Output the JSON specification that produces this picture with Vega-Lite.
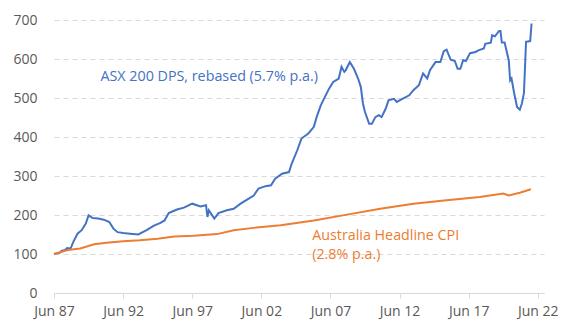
{
  "$schema": "https://vega.github.io/schema/vega-lite/v6.json",
  "width": 490,
  "height": 273,
  "autosize": "none",
  "padding": {"left": 54, "top": 20, "right": 17, "bottom": 27},
  "background": "white",
  "config": {"view": {"stroke": null}, "font": "Open Sans"},
  "datasets": {
    "series": [
      {"year": 1987.5, "value": 100, "series": "ASX"},
      {"year": 1987.9, "value": 103, "series": "ASX"},
      {"year": 1988.04, "value": 108, "series": "ASX"},
      {"year": 1988.3, "value": 110, "series": "ASX"},
      {"year": 1988.45, "value": 115, "series": "ASX"},
      {"year": 1988.7, "value": 114, "series": "ASX"},
      {"year": 1988.9, "value": 131, "series": "ASX"},
      {"year": 1989.2, "value": 152, "series": "ASX"},
      {"year": 1989.5, "value": 161, "series": "ASX"},
      {"year": 1989.8, "value": 178, "series": "ASX"},
      {"year": 1990.0, "value": 199, "series": "ASX"},
      {"year": 1990.3, "value": 192, "series": "ASX"},
      {"year": 1990.7, "value": 191, "series": "ASX"},
      {"year": 1991.1, "value": 188, "series": "ASX"},
      {"year": 1991.5, "value": 182, "series": "ASX"},
      {"year": 1991.8, "value": 165, "series": "ASX"},
      {"year": 1992.1, "value": 156, "series": "ASX"},
      {"year": 1992.5, "value": 154, "series": "ASX"},
      {"year": 1993.0, "value": 152, "series": "ASX"},
      {"year": 1993.6, "value": 150, "series": "ASX"},
      {"year": 1994.2, "value": 161, "series": "ASX"},
      {"year": 1994.7, "value": 172, "series": "ASX"},
      {"year": 1995.2, "value": 180, "series": "ASX"},
      {"year": 1995.5, "value": 186, "series": "ASX"},
      {"year": 1995.8, "value": 205, "series": "ASX"},
      {"year": 1996.4, "value": 214, "series": "ASX"},
      {"year": 1996.9, "value": 219, "series": "ASX"},
      {"year": 1997.5, "value": 229, "series": "ASX"},
      {"year": 1998.1, "value": 222, "series": "ASX"},
      {"year": 1998.5, "value": 225, "series": "ASX"},
      {"year": 1998.6, "value": 195, "series": "ASX"},
      {"year": 1998.7, "value": 212, "series": "ASX"},
      {"year": 1999.1, "value": 191, "series": "ASX"},
      {"year": 1999.4, "value": 205, "series": "ASX"},
      {"year": 2000.0, "value": 212, "series": "ASX"},
      {"year": 2000.5, "value": 216, "series": "ASX"},
      {"year": 2001.0, "value": 229, "series": "ASX"},
      {"year": 2001.5, "value": 240, "series": "ASX"},
      {"year": 2001.95, "value": 250, "series": "ASX"},
      {"year": 2002.3, "value": 268, "series": "ASX"},
      {"year": 2002.8, "value": 274, "series": "ASX"},
      {"year": 2003.2, "value": 276, "series": "ASX"},
      {"year": 2003.5, "value": 293, "series": "ASX"},
      {"year": 2004.0, "value": 306, "series": "ASX"},
      {"year": 2004.5, "value": 310, "series": "ASX"},
      {"year": 2004.7, "value": 332, "series": "ASX"},
      {"year": 2005.1, "value": 366, "series": "ASX"},
      {"year": 2005.4, "value": 396, "series": "ASX"},
      {"year": 2005.9, "value": 409, "series": "ASX"},
      {"year": 2006.3, "value": 426, "series": "ASX"},
      {"year": 2006.5, "value": 451, "series": "ASX"},
      {"year": 2006.8, "value": 481, "series": "ASX"},
      {"year": 2007.1, "value": 503, "series": "ASX"},
      {"year": 2007.4, "value": 524, "series": "ASX"},
      {"year": 2007.7, "value": 541, "series": "ASX"},
      {"year": 2008.1, "value": 550, "series": "ASX"},
      {"year": 2008.3, "value": 580, "series": "ASX"},
      {"year": 2008.5, "value": 567, "series": "ASX"},
      {"year": 2008.6, "value": 571, "series": "ASX"},
      {"year": 2008.9, "value": 592, "series": "ASX"},
      {"year": 2009.2, "value": 575, "series": "ASX"},
      {"year": 2009.5, "value": 550, "series": "ASX"},
      {"year": 2009.7, "value": 528, "series": "ASX"},
      {"year": 2009.85, "value": 486, "series": "ASX"},
      {"year": 2010.0, "value": 464, "series": "ASX"},
      {"year": 2010.3, "value": 434, "series": "ASX"},
      {"year": 2010.5, "value": 434, "series": "ASX"},
      {"year": 2010.75, "value": 451, "series": "ASX"},
      {"year": 2011.0, "value": 456, "series": "ASX"},
      {"year": 2011.2, "value": 451, "series": "ASX"},
      {"year": 2011.5, "value": 473, "series": "ASX"},
      {"year": 2011.7, "value": 494, "series": "ASX"},
      {"year": 2012.1, "value": 498, "series": "ASX"},
      {"year": 2012.3, "value": 490, "series": "ASX"},
      {"year": 2012.7, "value": 498, "series": "ASX"},
      {"year": 2013.2, "value": 507, "series": "ASX"},
      {"year": 2013.5, "value": 520, "series": "ASX"},
      {"year": 2013.9, "value": 533, "series": "ASX"},
      {"year": 2014.2, "value": 563, "series": "ASX"},
      {"year": 2014.5, "value": 550, "series": "ASX"},
      {"year": 2014.7, "value": 571, "series": "ASX"},
      {"year": 2015.1, "value": 592, "series": "ASX"},
      {"year": 2015.45, "value": 592, "series": "ASX"},
      {"year": 2015.7, "value": 620, "series": "ASX"},
      {"year": 2015.9, "value": 624, "series": "ASX"},
      {"year": 2016.2, "value": 598, "series": "ASX"},
      {"year": 2016.5, "value": 595, "series": "ASX"},
      {"year": 2016.7, "value": 575, "series": "ASX"},
      {"year": 2016.9, "value": 575, "series": "ASX"},
      {"year": 2017.1, "value": 597, "series": "ASX"},
      {"year": 2017.3, "value": 595, "series": "ASX"},
      {"year": 2017.6, "value": 615, "series": "ASX"},
      {"year": 2018.0, "value": 618, "series": "ASX"},
      {"year": 2018.2, "value": 622, "series": "ASX"},
      {"year": 2018.6, "value": 627, "series": "ASX"},
      {"year": 2018.7, "value": 639, "series": "ASX"},
      {"year": 2019.1, "value": 642, "series": "ASX"},
      {"year": 2019.2, "value": 661, "series": "ASX"},
      {"year": 2019.4, "value": 658, "series": "ASX"},
      {"year": 2019.7, "value": 672, "series": "ASX"},
      {"year": 2019.8, "value": 672, "series": "ASX"},
      {"year": 2019.9, "value": 642, "series": "ASX"},
      {"year": 2020.1, "value": 642, "series": "ASX"},
      {"year": 2020.4, "value": 597, "series": "ASX"},
      {"year": 2020.5, "value": 545, "series": "ASX"},
      {"year": 2020.6, "value": 550, "series": "ASX"},
      {"year": 2020.8, "value": 511, "series": "ASX"},
      {"year": 2021.0, "value": 477, "series": "ASX"},
      {"year": 2021.2, "value": 470, "series": "ASX"},
      {"year": 2021.35, "value": 486, "series": "ASX"},
      {"year": 2021.5, "value": 513, "series": "ASX"},
      {"year": 2021.65, "value": 644, "series": "ASX"},
      {"year": 2021.95, "value": 646, "series": "ASX"},
      {"year": 2022.05, "value": 691, "series": "ASX"},
      {"year": 1987.5, "value": 100, "series": "CPI"},
      {"year": 1988.5, "value": 110, "series": "CPI"},
      {"year": 1989.4, "value": 114, "series": "CPI"},
      {"year": 1990.4, "value": 125, "series": "CPI"},
      {"year": 1991.3, "value": 129, "series": "CPI"},
      {"year": 1992.5, "value": 133, "series": "CPI"},
      {"year": 1993.7, "value": 135, "series": "CPI"},
      {"year": 1995.0, "value": 139, "series": "CPI"},
      {"year": 1996.2, "value": 145, "series": "CPI"},
      {"year": 1997.6, "value": 147, "series": "CPI"},
      {"year": 1999.3, "value": 151, "series": "CPI"},
      {"year": 2000.5, "value": 161, "series": "CPI"},
      {"year": 2001.95, "value": 167, "series": "CPI"},
      {"year": 2003.9, "value": 174, "series": "CPI"},
      {"year": 2006.3, "value": 186, "series": "CPI"},
      {"year": 2008.7, "value": 201, "series": "CPI"},
      {"year": 2011.1, "value": 216, "series": "CPI"},
      {"year": 2013.5, "value": 229, "series": "CPI"},
      {"year": 2015.9, "value": 238, "series": "CPI"},
      {"year": 2018.3, "value": 246, "series": "CPI"},
      {"year": 2020.0, "value": 255, "series": "CPI"},
      {"year": 2020.4, "value": 250, "series": "CPI"},
      {"year": 2021.2, "value": 257, "series": "CPI"},
      {"year": 2022.0, "value": 266, "series": "CPI"}
    ],
    "labels": [
      {"label": "ASX 200 DPS, rebased (5.7% p.a.)", "series": "ASX", "year": 1990.86, "value": 555},
      {"label": "Australia Headline CPI", "series": "CPI", "year": 2006.18, "value": 145},
      {"label": "(2.8% p.a.)", "series": "CPI", "year": 2006.18, "value": 98.5}
    ]
  },
  "encoding": {
    "x": {
      "field": "year",
      "type": "quantitative",
      "scale": {"domain": [1987.5, 2022.95], "nice": false, "zero": false},
      "axis": {
        "title": null,
        "values": [1987.5, 1992.5, 1997.5, 2002.5, 2007.5, 2012.5, 2017.5, 2022.5],
        "labelExpr": "'Jun ' + substring(toString(datum.value - 0.5), 2, 4)",
        "grid": false,
        "domainColor": "#d9d9d9",
        "tickColor": "#d9d9d9",
        "tickSize": 5,
        "labelPadding": 6,
        "labelFontSize": 14,
        "labelColor": "#595959",
        "labelFont": "Open Sans",
        "labelFlush": false,
        "labelOverlap": false
      }
    },
    "y": {
      "field": "value",
      "type": "quantitative",
      "scale": {"domain": [0, 700], "nice": false},
      "axis": {
        "title": null,
        "values": [0, 100, 200, 300, 400, 500, 600, 700],
        "domain": false,
        "ticks": false,
        "labelPadding": 17,
        "labelFontSize": 14,
        "labelColor": "#595959",
        "labelFont": "Open Sans",
        "labelOverlap": false,
        "labelFlush": false,
        "gridColor": "#d9d9d9",
        "gridDash": [5, 4],
        "gridWidth": 1
      }
    },
    "color": {
      "field": "series",
      "type": "nominal",
      "scale": {"domain": ["ASX", "CPI"], "range": ["#4472C4", "#ED7D31"]},
      "legend": null
    }
  },
  "layer": [
    {
      "data": {"name": "series"},
      "mark": {"type": "line", "strokeWidth": 2, "interpolate": "linear"}
    },
    {
      "data": {"name": "labels"},
      "mark": {"type": "text", "align": "left", "baseline": "middle", "fontSize": 14.3, "font": "Open Sans"},
      "encoding": {
        "text": {"field": "label"}
      }
    }
  ]
}
